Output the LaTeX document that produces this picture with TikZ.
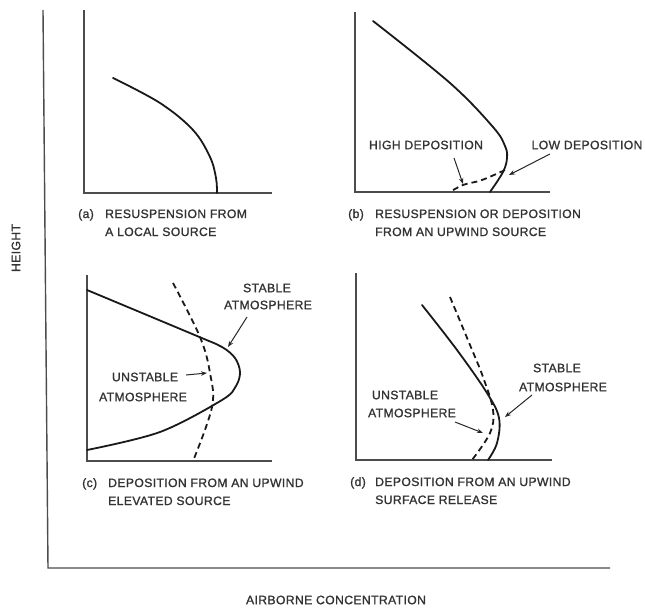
\documentclass[tikz,border=0pt]{standalone}
\usepackage{fontspec}
\setmainfont[LetterSpace=3,FakeBold=1.2]{Liberation Sans}
\usetikzlibrary{arrows.meta}
\begin{document}
\begin{tikzpicture}[x=1pt,y=-1pt,
  axis/.style={draw=black!70, line width=1.4pt},
  curve/.style={draw=black!90, line width=1.8pt, line cap=round},
  dcurve/.style={curve, line cap=butt, dash pattern=on 6pt off 4pt},
  lbl/.style={font=\fontsize{12.2}{13}\selectfont, inner sep=0pt, text=black!80},
  capl/.style={lbl, anchor=base west},
  pointer/.style={draw=black!85, line width=1pt, -{Stealth[length=6pt,width=4.5pt]}},
]
\useasboundingbox (0,0) rectangle (645,608);

% main axes
\coordinate (mtop) at (43,10);
\coordinate (morig) at (48,568);
\coordinate (mright) at (610,568);
\draw[axis] (mtop) -- (morig) -- (mright);
\node[lbl, rotate=90] (height) at (16,248) {HEIGHT};
\node[lbl] (conc) at (336,600) {AIRBORNE CONCENTRATION};

% (a)
\coordinate (atop) at (84,10);
\coordinate (aorig) at (84,193);
\coordinate (aright) at (272,193);
\draw[axis] (atop) -- (aorig) -- (aright);
\draw[curve] plot[smooth, tension=0.6] coordinates {(113,78) (160,103) (193,130) (210,157) (216,178) (217,193)};
\node[capl] (alab) at (78,218) {(a)};
\node[capl] (acap1) at (105,218) {RESUSPENSION FROM};
\node[capl] (acap2) at (105,236) {A LOCAL SOURCE};

% (b)
\coordinate (btop) at (355,12);
\coordinate (borig) at (355,192);
\coordinate (bright) at (550,192);
\draw[axis] (btop) -- (borig) -- (bright);
\draw[curve] plot[smooth, tension=0.6] coordinates {(373,21) (450,83) (493,127) (505,146) (507,158) (503,172) (490,192)};
\draw[dcurve] plot[smooth, tension=0.6] coordinates {(505,170) (482,180) (463,185) (450,192)};
\node[lbl] (bhigh) at (426,145) {HIGH DEPOSITION};
\node[lbl] (blow) at (587,145) {LOW DEPOSITION};
\coordinate (bhighs) at (454,158);
\coordinate (bhighe) at (463,184);
\coordinate (blows) at (550,154);
\coordinate (blowe) at (509,175);
\draw[pointer] (bhighs) -- (bhighe);
\draw[pointer] (blows) -- (blowe);
\node[capl] (blab) at (348,218) {(b)};
\node[capl] (bcap1) at (375,218) {RESUSPENSION OR DEPOSITION};
\node[capl] (bcap2) at (375,236) {FROM AN UPWIND SOURCE};

% (c)
\coordinate (ctop) at (87,275);
\coordinate (corig) at (87,461);
\coordinate (cright) at (272,461);
\draw[axis] (ctop) -- (corig) -- (cright);
\draw[curve] plot[smooth, tension=0.55] coordinates {(87,290) (197,336) (222,347) (235,358) (240,372) (236,386) (222,400) (160,432) (87,450)};
\draw[dcurve] plot[smooth, tension=0.6] coordinates {(173,283) (200,337) (210,373) (212,407) (193,461)};
\node[lbl] (cst1) at (267,288) {STABLE};
\node[lbl] (cst2) at (268,305) {ATMOSPHERE};
\node[lbl] (cun1) at (145,377) {UNSTABLE};
\node[lbl] (cun2) at (143,397) {ATMOSPHERE};
\coordinate (csts) at (247,317);
\coordinate (cste) at (228,347);
\coordinate (cuns) at (186,375);
\coordinate (cune) at (207,373);
\draw[pointer] (csts) -- (cste);
\draw[pointer] (cuns) -- (cune);
\node[capl] (clab) at (82,487) {(c)};
\node[capl] (ccap1) at (108,487) {DEPOSITION FROM AN UPWIND};
\node[capl] (ccap2) at (108,505) {ELEVATED SOURCE};

% (d)
\coordinate (dtop) at (356,273);
\coordinate (dorig) at (356,460);
\coordinate (dright) at (552,460);
\draw[axis] (dtop) -- (dorig) -- (dright);
\draw[curve] plot[smooth, tension=0.6] coordinates {(422,305) (457,350) (487,393) (499,418) (497,443) (488,460)};
\draw[dcurve] plot[smooth, tension=0.6] coordinates {(450,297) (470,345) (483,377) (493,410) (490,433) (472,460)};
\node[lbl] (dst1) at (557,368) {STABLE};
\node[lbl] (dst2) at (563,387) {ATMOSPHERE};
\node[lbl] (dun1) at (405,395) {UNSTABLE};
\node[lbl] (dun2) at (412,413) {ATMOSPHERE};
\coordinate (dsts) at (532,395);
\coordinate (dste) at (505,417);
\coordinate (duns) at (455,422);
\coordinate (dune) at (483,433);
\draw[pointer] (dsts) -- (dste);
\draw[pointer] (duns) -- (dune);
\node[capl] (dlab) at (350,486) {(d)};
\node[capl] (dcap1) at (375,486) {DEPOSITION FROM AN UPWIND};
\node[capl] (dcap2) at (375,504) {SURFACE RELEASE};
\end{tikzpicture}
\end{document}
